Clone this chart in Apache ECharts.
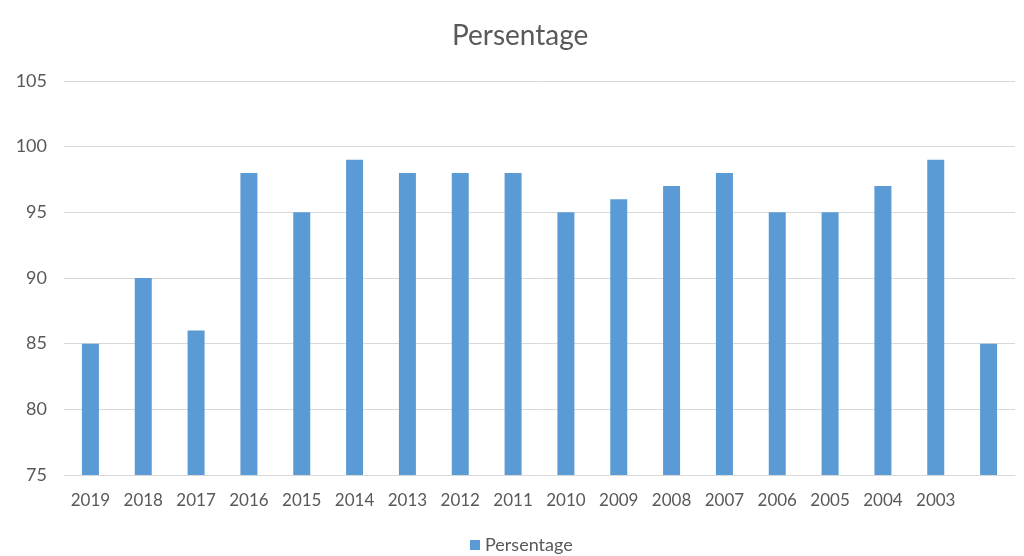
<!DOCTYPE html>
<html>
<head>
    <meta charset="utf-8">
    <script src="https://cdn.jsdelivr.net/npm/echarts@6/dist/echarts.min.js"></script>
    <style>
        html, body { margin: 0; padding: 0; background: #fff; }
    </style>
</head>
<body>
<div id="main" style="width: 1024px;height:556px;"></div>
<script>
    // years on the x axis, last slot has no label
    var years = ['2019', '2018', '2017', '2016', '2015', '2014', '2013', '2012', '2011',
        '2010', '2009', '2008', '2007', '2006', '2005', '2004', '2003', ''];
    var persentage = [85, 90, 86, 98, 95, 99, 98, 98, 98, 95, 96, 97, 98, 95, 95, 97, 99, 85];

    var myChart = echarts.init(document.getElementById('main'));
    var txt = '#595959';

    var option = {
        animation: false,
        textStyle: { fontFamily: 'Lato' },
        title: {
            text: 'Persentage',
            left: 447,
            top: 17,
            textStyle: { fontSize: 28, fontWeight: 'normal', color: txt, fontFamily: 'Lato' }
        },
        legend: {
            top: 531,
            left: 465,
            icon: 'rect',
            itemWidth: 10,
            itemHeight: 10,
            itemGap: 6,
            textStyle: { fontSize: 18, color: txt, fontFamily: 'Lato' },
            data: ['Persentage']
        },
        grid: { left: 64, right: 9, top: 81, bottom: 81 },
        xAxis: {
            type: 'category',
            data: years,
            axisTick: { show: false },
            axisLine: { lineStyle: { color: '#d9d9d9', width: 1 } },
            axisLabel: { color: txt, fontSize: 17, margin: 17, interval: 0 }
        },
        yAxis: {
            type: 'value',
            min: 75,
            max: 105,
            interval: 5,
            axisLine: { show: false },
            axisTick: { show: false },
            splitLine: { lineStyle: { color: '#d9d9d9', width: 1 } },
            axisLabel: { color: txt, fontSize: 18, margin: 17 }
        },
        series: [{
            name: 'Persentage',
            type: 'bar',
            data: persentage,
            barWidth: 17,
            itemStyle: { color: '#5b9bd5' }
        }]
    };
    myChart.setOption(option);
</script>
</body>
</html>
